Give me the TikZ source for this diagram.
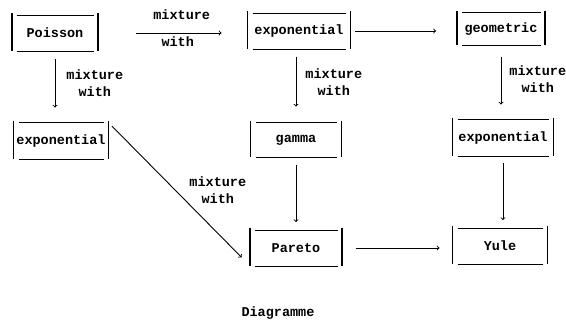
\documentclass[tikz,border=0pt]{standalone}
\usepackage{fontspec}
\setmonofont{Liberation Mono}
\begin{document}
\begin{tikzpicture}
  [x=1pt,y=-1pt,line width=.9pt,
   every node/.style={font=\ttfamily\bfseries\fontsize{13.5}{17}\selectfont},
   dist/.style={minimum height=35pt,inner sep=0pt},
   lbl/.style={align=center,inner sep=2pt}]
  \useasboundingbox (0,0) rectangle (566,322);

  \node[dist,minimum width=85pt] (pois) at (55,33) {Poisson};
  \node[dist,minimum width=102pt] (expo1) at (299,31) {exponential};
  \node[dist,minimum width=87pt,minimum height=32pt] (geom) at (501,29) {geometric};
  \node[dist,minimum width=94pt,minimum height=36pt] (expo2) at (61,141) {exponential};
  \node[dist,minimum width=90pt,minimum height=34pt] (gam) at (296,140) {gamma};
  \node[dist,minimum width=100pt,minimum height=36pt] (expo3) at (503,138) {exponential};
  \node[dist,minimum width=91pt] (par) at (296,248) {Pareto};
  \node[dist,minimum width=94pt] (yule) at (500,246) {Yule};
  \node (cap) at (278,313) {Diagramme};

  % typewriter boxes: long bars, short rules
  \foreach \n in {pois,expo1,geom,expo2,gam,expo3,par,yule} {
    \draw[line width=1.4pt] ([yshift=2pt]\n.north west) -- (\n.south west);
    \draw[line width=1.4pt] ([yshift=2pt]\n.north east) -- (\n.south east);
    \draw ([xshift=5pt]\n.north west) -- ([xshift=-4pt]\n.north east);
    \draw ([xshift=5pt]\n.south west) -- ([xshift=-4pt]\n.south east);
  }

  \draw[->,shorten <=38pt,shorten >=26pt] (pois.east) -- (pois.east -| expo1.west)
    node[lbl,midway,above=11pt,xshift=9pt] {mixture}
    node[lbl,midway,below=1pt,xshift=5pt] {with};
  \draw[->,shorten <=5pt,shorten >=21pt] (expo1.east) -- (expo1.east -| geom.west);
  \draw[->,shorten <=8pt,shorten >=15pt] (pois.south) -- node[lbl,pos=.45,right=9pt] {mixture\\with} (pois.south |- expo2.north);
  \draw[->,shorten <=8pt,shorten >=16pt] (gam.north |- expo1.south) -- node[lbl,pos=.45,right=7pt] {mixture\\with} (gam.north);
  \draw[->,shorten <=12pt,shorten >=15pt] (geom.south) -- node[lbl,pos=.45,right=6pt] {mixture\\with} (geom.south |- expo3.north);
  \draw[->,shorten <=5pt,shorten >=12pt] (expo2.north east) -- node[lbl,pos=.47,right=12pt] {mixture\\with} (par.south west);
  \draw[->,shorten <=8pt,shorten >=8pt] (gam) -- (par);
  \draw[->,shorten <=7pt,shorten >=8pt] (expo3.south) -- (expo3.south |- yule.north);
  \draw[->,shorten <=14pt,shorten >=13pt] (par.east) -- (par.east -| yule.west);
\end{tikzpicture}
\end{document}
